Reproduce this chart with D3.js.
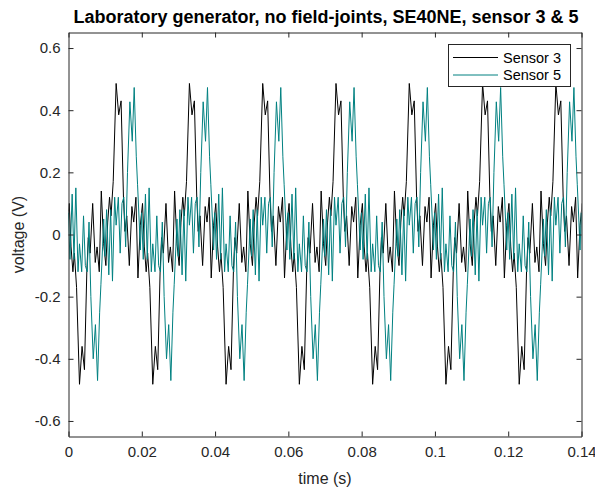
<!DOCTYPE html>
<html><head><meta charset="utf-8">
<script src="https://cdn.jsdelivr.net/npm/d3@7"></script>
<style>
html,body{margin:0;padding:0;background:#fff;}
svg{display:block;font-family:"Liberation Sans",Arial,Helvetica,sans-serif;}
</style></head><body>
<svg id="chart" width="595" height="492"></svg>
<script>
// ---- chart text ----
const titleText = "Laboratory generator, no field-joints, SE40NE, sensor 3 & 5";
const xLabel = "time (s)";
const yLabel = "voltage (V)";

// ---- ticks ----
const xTicks = [0, 0.02, 0.04, 0.06, 0.08, 0.1, 0.12, 0.14];
const xTickLabels = ["0", "0.02", "0.04", "0.06", "0.08", "0.1", "0.12", "0.14"];
const yTicks = [-0.6, -0.4, -0.2, 0, 0.2, 0.4, 0.6];
const yTickLabels = ["-0.6", "-0.4", "-0.2", "0", "0.2", "0.4", "0.6"];

// ---- series ----
const seriesNames = ["Sensor 3", "Sensor 5"];
const seriesColors = ["#000000", "#008080"];

// One 20 ms mains cycle of each sensor: vertex times (ms) and voltages (V)
const sensor3Time = [3.0, 3.7, 4.35, 5.0, 5.4, 5.9, 6.6, 7.3, 7.8, 8.4, 8.95, 9.6, 10.2, 10.7, 11.2, 11.6, 12.2,
                     13.0, 13.7, 14.35, 15.0, 15.4, 15.9, 16.6, 17.3, 17.8, 18.4, 18.95, 19.6, 20.2, 20.7, 21.2, 21.6, 22.2];
const sensor3Volt = [-0.482, -0.36, -0.435, -0.12, -0.01, -0.06, 0.10, -0.09, -0.04, -0.12, 0.14, -0.03, -0.10, 0.04, 0.12, 0.06, 0.17,
                     0.486, 0.385, 0.43, 0.12, 0.01, 0.06, -0.10, 0.09, 0.04, 0.12, -0.14, 0.03, 0.10, -0.04, -0.12, -0.06, -0.17];

const sensor5Time = [6.75, 7.35, 7.93, 8.5, 8.85, 9.3, 9.6, 9.95, 10.4, 11.0, 11.5, 12.0, 12.6, 13.0, 13.6, 14.1, 14.6, 15.1, 15.6, 16.1,
                     16.75, 17.4, 17.93, 18.5, 18.85, 19.3, 19.6, 19.95, 20.4, 21.0, 21.5, 22.0, 22.6, 23.0, 23.6, 24.1, 24.6, 25.1, 25.6, 26.1];
const sensor5Volt = [-0.40, -0.29, -0.47, -0.25, -0.16, -0.04, 0.05, -0.07, 0.08, -0.13, 0.08, -0.15, 0.12, 0.03, 0.12, -0.06, 0.10, 0.12, -0.04, 0.20,
                     0.427, 0.30, 0.473, 0.25, 0.16, 0.04, -0.05, 0.07, -0.08, 0.13, -0.08, 0.15, -0.12, -0.03, -0.12, 0.06, -0.10, -0.12, 0.04, -0.20];

// Offset (ms) of each recorded cycle in the 140 ms window
const cycleShift = [-20, 0, 20, 40, 60, 80, 100, 120];

// ---- layout ----
const svg = d3.select("#chart");
const axisColor = "#262626";
const x = d3.scaleLinear().domain([0, 0.14]).range([68.5, 581.5]);
const y = d3.scaleLinear().domain([-0.65, 0.65]).range([436.5, 32.5]);
const tickLen = 5;

function buildSeries(times, volts) {
  const pts = [];
  cycleShift.forEach(s => times.forEach((t, i) => pts.push([(t + s) / 1000, volts[i]])));
  return pts;
}
const series = [buildSeries(sensor3Time, sensor3Volt), buildSeries(sensor5Time, sensor5Volt)];

svg.append("defs").append("clipPath").attr("id", "plotClip")
  .append("rect").attr("x", x(0)).attr("y", y(0.65))
  .attr("width", x(0.14) - x(0)).attr("height", y(-0.65) - y(0.65));

// data lines
const line = d3.line().x(d => x(d[0])).y(d => y(d[1]));
const plot = svg.append("g").attr("clip-path", "url(#plotClip)");
series.forEach((pts, i) => {
  plot.append("path").datum(pts)
    .attr("fill", "none").attr("stroke", seriesColors[i])
    .attr("stroke-width", 1).attr("stroke-linejoin", "miter").attr("d", line);
});

// axes (box with inward ticks on all sides)
function styleAxis(g) {
  g.selectAll("path.domain").attr("stroke", axisColor);
  g.selectAll(".tick line").attr("stroke", axisColor);
  g.selectAll(".tick text").attr("fill", axisColor).attr("font-size", 15)
    .attr("font-family", "'Liberation Sans', Arial, sans-serif");
}
svg.append("g").attr("transform", `translate(0,${y(-0.65)})`)
  .call(d3.axisBottom(x).tickValues(xTicks).tickFormat((d, i) => xTickLabels[i])
    .tickSizeInner(-tickLen).tickSizeOuter(0).tickPadding(10))
  .call(styleAxis);
svg.append("g").attr("transform", `translate(0,${y(0.65)})`)
  .call(d3.axisTop(x).tickValues(xTicks).tickFormat("")
    .tickSizeInner(-tickLen).tickSizeOuter(0))
  .call(styleAxis);
svg.append("g").attr("transform", `translate(${x(0)},0)`)
  .call(d3.axisLeft(y).tickValues(yTicks).tickFormat((d, i) => yTickLabels[i])
    .tickSizeInner(-tickLen).tickSizeOuter(0).tickPadding(8))
  .call(styleAxis);
svg.append("g").attr("transform", `translate(${x(0.14)},0)`)
  .call(d3.axisRight(y).tickValues(yTicks).tickFormat("")
    .tickSizeInner(-tickLen).tickSizeOuter(0))
  .call(styleAxis);

// labels
svg.append("text").attr("x", (x(0) + x(0.14)) / 2 + 1).attr("y", 23)
  .attr("text-anchor", "middle").attr("font-size", 18).attr("font-weight", "bold")
  .attr("fill", "#000").text(titleText);
svg.append("text").attr("x", (x(0) + x(0.14)) / 2).attr("y", 484)
  .attr("text-anchor", "middle").attr("font-size", 16).attr("fill", axisColor).text(xLabel);
svg.append("text").attr("transform", `translate(24,${y(0)}) rotate(-90)`)
  .attr("text-anchor", "middle").attr("font-size", 16).attr("fill", axisColor).text(yLabel);

// legend
const legend = svg.append("g");
legend.append("rect").attr("x", 448.5).attr("y", 44.5).attr("width", 122).attr("height", 42)
  .attr("fill", "#fff").attr("stroke", axisColor).attr("stroke-width", 1);
seriesNames.forEach((name, i) => {
  const ly = 57.5 + i * 17.5;
  legend.append("line").attr("x1", 453).attr("x2", 498).attr("y1", ly).attr("y2", ly)
    .attr("stroke", seriesColors[i]).attr("stroke-width", 1);
  legend.append("text").attr("x", 503).attr("y", ly).attr("dy", "0.35em")
    .attr("font-size", 14.5).attr("fill", "#000").text(name);
});
</script>
</body></html>
